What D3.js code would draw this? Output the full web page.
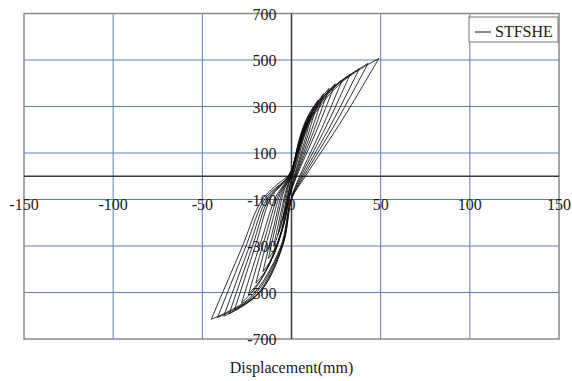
<!DOCTYPE html>
<html>
<head>
<meta charset="utf-8">
<script src="https://cdn.jsdelivr.net/npm/d3@7"></script>
<style>
  html, body { margin: 0; padding: 0; background: #ffffff; }
  svg { display: block; }
  text { font-family: "Liberation Serif", "Times New Roman", serif; fill: #1a1a1a; }
</style>
</head>
<body>
<svg id="chart" width="572" height="381"></svg>
<script>
// Axis ticks
const xTicks = [-150, -100, -50, 0, 50, 100, 150];
const yTicks = [700, 500, 300, 100, -100, -300, -500, -700];
const seriesName = "STFSHE";
const xTitle = "Displacement(mm)";

// Cyclic load record: displacement (mm) and load, point by point,
// thirteen cycles of growing amplitude (one row per cycle).
const displacement = [
  0,
  1.0, 2.1, 3.7, 5, 2.8, 0.4, -0.5, -2.0, -3.9, -5, -2.9, -1.3, -0.2,
  1.5, 3.2, 5.6, 7.5, 4.2, 0.6, -0.8, -3.0, -5.9, -7.5, -4.4, -2.0, -0.2,
  2.0, 4.2, 7.4, 10, 5.6, 0.8, -1.0, -4.0, -7.8, -10, -5.8, -2.6, -0.3,
  1.8, 4.0, 8.0, 12.5, 7.3, 1.5, -0.5, -3.4, -8.6, -13, -7.8, -4.0, -0.5,
  2.1, 4.8, 9.6, 15, 8.7, 1.8, -0.6, -4.2, -10.6, -16, -9.6, -5.0, -0.6,
  2.5, 5.8, 11.5, 18, 10.4, 2.2, -0.8, -5.2, -13.2, -20, -12, -6.2, -0.8,
  2.9, 6.7, 13.4, 21, 12.2, 2.5, -1.0, -6.2, -15.8, -24, -14.4, -7.4, -1.0,
  3.4, 7.8, 15.7, 24.5, 14.2, 2.9, -1.1, -7.3, -18.5, -28, -16.8, -8.7, -1.1,
  2.9, 6.8, 16.5, 28.5, 17.1, 4.6, 0, -4.5, -16.6, -32, -19.8, -11.5, -1.4,
  3.3, 7.9, 19.1, 33, 19.8, 5.3, 0, -4.9, -18.2, -35, -21.7, -12.6, -1.6,
  3.8, 9.1, 22, 38, 22.8, 6.1, 0, -5.3, -19.8, -38, -23.6, -13.7, -1.7,
  4.3, 10.3, 24.9, 43, 25.8, 6.9, 0, -5.8, -21.6, -41.5, -25.7, -14.9, -1.9,
  4.9, 11.8, 28.4, 49, 29.4, 7.8, 0, -6.3, -23.4, -45, -27.9, -16.2, -2.0
];
const load = [
  0,
  41, 83, 132, 165, 83, 0, -30, -95, -162, -190, -95, -30, 0,
  54, 108, 172, 215, 108, 0, -40, -125, -213, -250, -125, -40, 0,
  65, 130, 208, 260, 130, 0, -48, -150, -255, -300, -150, -48, 0,
  75, 150, 240, 300, 150, 0, -57, -178, -302, -355, -178, -57, 0,
  82, 164, 262, 328, 164, 0, -66, -205, -349, -410, -205, -66, 0,
  89, 178, 284, 355, 178, 0, -74, -230, -391, -460, -230, -74, 0,
  95, 189, 302, 378, 189, 0, -81, -253, -429, -505, -253, -81, 0,
  100, 199, 318, 398, 199, 0, -87, -273, -463, -545, -273, -87, 0,
  104, 208, 332, 415, 208, 0, -92, -288, -489, -575, -288, -92, 0,
  110, 220, 352, 440, 220, 0, -95, -296, -503, -592, -296, -95, 0,
  116, 231, 370, 462, 231, 0, -96, -301, -512, -602, -301, -96, 0,
  122, 243, 389, 486, 243, 0, -97, -304, -517, -608, -304, -97, 0,
  127, 254, 406, 507, 254, 0, -98, -308, -523, -615, -308, -98, 0
];

const svg = d3.select("#chart");
const plot = { left: 24, right: 559, top: 13.5, bottom: 339 };

const x = d3.scaleLinear().domain([-150, 150]).range([plot.left, plot.right]);
const y = d3.scaleLinear().domain([-700, 700]).range([plot.bottom, plot.top]);

const gridColor = "#5a80b8";

// Grid lines
svg.append("g")
  .selectAll("line")
  .data(xTicks.filter(t => t !== 0 && Math.abs(t) !== 150))
  .join("line")
  .attr("x1", d => x(d)).attr("x2", d => x(d))
  .attr("y1", plot.top).attr("y2", plot.bottom)
  .attr("stroke", gridColor).attr("stroke-width", 1);

svg.append("g")
  .selectAll("line")
  .data(yTicks.filter(t => Math.abs(t) !== 700))
  .join("line")
  .attr("x1", plot.left).attr("x2", plot.right)
  .attr("y1", d => y(d)).attr("y2", d => y(d))
  .attr("stroke", gridColor).attr("stroke-width", 1);

// Plot frame
svg.append("rect")
  .attr("x", plot.left).attr("y", plot.top)
  .attr("width", plot.right - plot.left).attr("height", plot.bottom - plot.top)
  .attr("fill", "none").attr("stroke", "#8a8a8a").attr("stroke-width", 1.5);

// Zero axes
svg.append("line")
  .attr("x1", plot.left).attr("x2", plot.right)
  .attr("y1", y(0)).attr("y2", y(0))
  .attr("stroke", "#3a3a3a").attr("stroke-width", 1.5);
svg.append("line")
  .attr("x1", x(0)).attr("x2", x(0))
  .attr("y1", plot.top).attr("y2", plot.bottom)
  .attr("stroke", "#3a3a3a").attr("stroke-width", 1.5);

// Hysteresis curve: split into branches at the load reversals so the
// peaks stay sharp, each branch smoothed on its own.
const pts = displacement.map((d, i) => [d, load[i]]);
const breaks = [0];
for (let i = 1; i < pts.length - 1; i++) {
  if ((load[i] - load[i - 1]) * (load[i + 1] - load[i]) < 0) breaks.push(i);
}
breaks.push(pts.length - 1);
const branches = [];
for (let b = 0; b < breaks.length - 1; b++) {
  branches.push(pts.slice(breaks[b], breaks[b + 1] + 1));
}

const line = d3.line()
  .x(d => x(d[0]))
  .y(d => y(d[1]))
  .curve(d3.curveCatmullRom.alpha(0.5));

svg.append("g")
  .selectAll("path")
  .data(branches)
  .join("path")
  .attr("d", line)
  .attr("fill", "none")
  .attr("stroke", "#0d0d0d")
  .attr("stroke-width", 0.95)
  .attr("stroke-opacity", 0.9)
  .attr("stroke-linejoin", "miter");

// Tick labels
svg.append("g")
  .selectAll("text")
  .data(yTicks)
  .join("text")
  .attr("x", x(0) - 15)
  .attr("y", d => y(d) + 6)
  .attr("text-anchor", "end")
  .attr("font-size", 16)
  .text(d => d);

svg.append("g")
  .selectAll("text")
  .data(xTicks)
  .join("text")
  .attr("x", d => x(d))
  .attr("y", y(0) + 34)
  .attr("text-anchor", "middle")
  .attr("font-size", 16)
  .text(d => d);

// Axis title
svg.append("text")
  .attr("x", x(0))
  .attr("y", 373)
  .attr("text-anchor", "middle")
  .attr("font-size", 16)
  .text(xTitle);

// Legend
const legend = svg.append("g");
legend.append("rect")
  .attr("x", 469).attr("y", 17).attr("width", 89).attr("height", 25)
  .attr("fill", "#fff").attr("stroke", "#777").attr("stroke-width", 1);
legend.append("line")
  .attr("x1", 475).attr("x2", 491).attr("y1", 32).attr("y2", 32)
  .attr("stroke", "#111").attr("stroke-width", 1);
legend.append("text")
  .attr("x", 495).attr("y", 37)
  .attr("font-size", 16)
  .text(seriesName);
</script>
</body>
</html>
